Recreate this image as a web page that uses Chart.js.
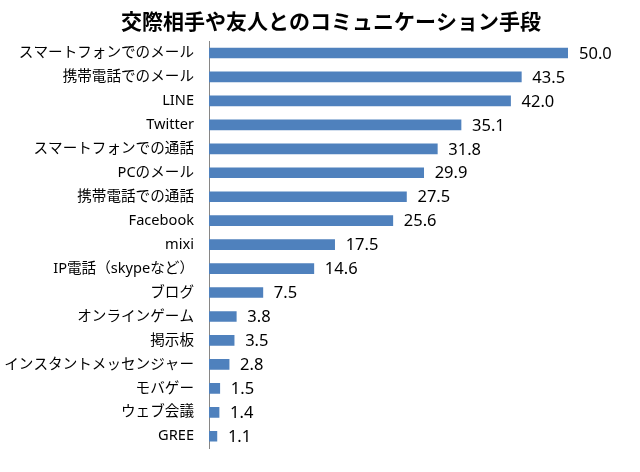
<!DOCTYPE html>
<html><head><meta charset="utf-8">
<script src="https://cdn.jsdelivr.net/npm/chart.js@4/dist/chart.umd.min.js"></script>
<style>html,body{margin:0;padding:0;background:#fff}#w{width:640px;height:472px}</style>
</head><body><div id="w"><canvas id="c" width="640" height="472"></canvas></div>
<script>
const titleText = '交際相手や友人とのコミュニケーション手段';
const categories = ['スマートフォンでのメール','携帯電話でのメール','LINE','Twitter','スマートフォンでの通話','PCのメール','携帯電話での通話','Facebook','mixi','IP電話（skypeなど）','ブログ','オンラインゲーム','掲示板','インスタントメッセンジャー','モバゲー','ウェブ会議','GREE'];
const values = [50.0,43.5,42.0,35.1,31.8,29.9,27.5,25.6,17.5,14.6,7.5,3.8,3.5,2.8,1.5,1.4,1.1];

const FONT = '"Noto Sans", "Noto Sans CJK JP", sans-serif';

const labelPlugin = {
  id: 'valueLabels',
  afterDatasetsDraw(chart) {
    const ctx = chart.ctx;
    const meta = chart.getDatasetMeta(0);
    ctx.save();
    ctx.font = '16.5px ' + FONT;
    ctx.fillStyle = '#000';
    ctx.textAlign = 'left';
    ctx.textBaseline = 'middle';
    meta.data.forEach((bar, i) => {
      ctx.fillText(values[i].toFixed(1), bar.x + 11, bar.y + 1);
    });
    ctx.restore();
  }
};
const titlePlugin = {
  id: 'customTitle',
  afterDraw(chart) {
    const ctx = chart.ctx;
    ctx.save();
    ctx.font = 'bold 21px "Noto Sans CJK JP", sans-serif';
    ctx.fillStyle = '#000';
    ctx.textAlign = 'center';
    ctx.textBaseline = 'middle';
    ctx.fillText(titleText, 331, 21);
    ctx.restore();
  }
};

new Chart(document.getElementById('c'), {
  type: 'bar',
  data: {
    labels: categories,
    datasets: [{
      data: values,
      backgroundColor: '#4F81BD',
      barThickness: 10,
      borderWidth: 0
    }]
  },
  options: {
    indexAxis: 'y',
    responsive: false,
    animation: false,
    layout: { padding: { top: 41, bottom: 23, right: 72, left: 0 } },
    plugins: { legend: { display: false }, tooltip: { enabled: false }, title: { display: false } },
    scales: {
      x: { display: false, min: 0, max: 50 },
      y: {
        afterFit(scale) { scale.width = 209; },
        grid: { display: false, drawTicks: false },
        border: { display: true, color: '#868686', width: 1 },
        ticks: { padding: 15, color: '#000', font: { size: 14.6, family: FONT } }
      }
    }
  },
  plugins: [labelPlugin, titlePlugin]
});
</script></body></html>
